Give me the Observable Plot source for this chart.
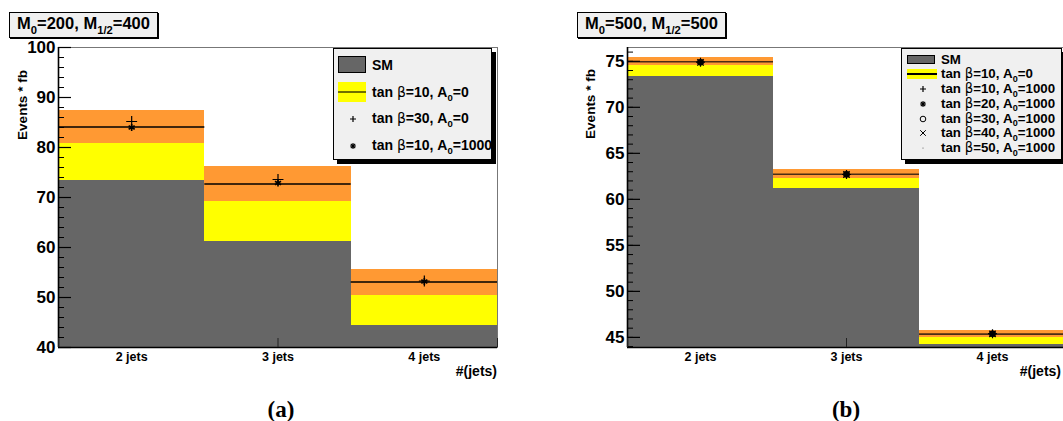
<!DOCTYPE html>
<html><head><meta charset="utf-8">
<script src="https://cdn.jsdelivr.net/npm/d3@7"></script>
<script src="https://cdn.jsdelivr.net/npm/@observablehq/plot@0.6"></script>
<style>
html,body{margin:0;padding:0;background:#fff;overflow:hidden;}
#root{position:relative;width:1063px;height:421px;overflow:hidden;font-family:"Liberation Sans",Arial,Helvetica,sans-serif;font-weight:bold;color:#000;}
.abs{position:absolute;white-space:nowrap;}
.pave{position:absolute;background:#f0f0f0;border:1px solid #000;box-sizing:border-box;}
.sub{font-size:0.68em;position:relative;top:0.42em;}
.beta{font-weight:normal;font-family:"DejaVu Sans","Liberation Sans",sans-serif;}
.svgplot{position:absolute;top:0;}
</style></head>
<body><div id="root"></div>
<script>
// ---------- data ----------
const categories = ["2 jets", "3 jets", "4 jets"];
const xTicks = [0, 1.5, 3];

// Panel (a): M0=200, M1/2=400
const smA = [73.4, 61.2, 44.4];
const sigA = [84.1, 72.7, 53.1];      // tan beta=10, A0=0
const errA = [3.3, 3.5, 2.6];
const tb30A0A = [85.2, 73.6, 53.3];   // tan beta=30, A0=0
const tb10A1000A = [84.0, 72.9, 53.2];// tan beta=10, A0=1000
const yDomainA = [40, 100];
const yMajorA = [40, 50, 60, 70, 80, 90, 100];

// Panel (b): M0=500, M1/2=500
const smB = [73.4, 61.2, 44.25];
const sigB = [74.95, 62.72, 45.35];
const errB = [0.45, 0.47, 0.35];
const tb10B = [74.9, 62.7, 45.4];
const tb20B = [74.88, 62.7, 45.38];
const tb30B = [74.9, 62.72, 45.4];
const tb40B = [74.88, 62.7, 45.38];
const tb50B = [74.9, 62.7, 45.4];
const yDomainB = [43.9, 76.5];
const yMajorB = [45, 50, 55, 60, 65, 70, 75];

// ---------- drawing ----------
function panel(o) {
  const W = o.width, H = 421;
  const innerW = W - o.mL - o.mR, innerH = H - o.mT - o.mB;
  const rows = categories.map((c, i) => ({i, i2: i + 1, c, sm: o.sm[i], sig: o.sig[i], lo: o.sig[i] - o.err[i], hi: o.sig[i] + o.err[i]}));
  const y0 = o.yDomain[0];
  const markerMarks = o.markers.map(m => Plot.dot(m.values.map((v, i) => ({x: i + 0.5, y: v})), {
    x: "x", y: "y", symbol: m.symbol, r: m.r, stroke: "#000", strokeWidth: m.sw ?? 1.2, fill: m.fill ?? "none"
  }));
  const crisp = {shapeRendering: "crispEdges"};
  return Plot.plot({
    width: W, height: H,
    marginLeft: o.mL, marginRight: o.mR, marginTop: o.mT, marginBottom: o.mB,
    style: {fontFamily: "'Liberation Sans', Arial, sans-serif", fontWeight: "bold", background: "transparent", overflow: "visible"},
    x: {domain: [0, 3], axis: null},
    y: {domain: o.yDomain, axis: null},
    marks: [
      Plot.rect(rows, {x1: "i", x2: "i2", y1: y0, y2: "sig", fill: "#ffff00", ...crisp}),
      Plot.rect(rows, {x1: "i", x2: "i2", y1: y0, y2: "sm", fill: "#666666", ...crisp}),
      Plot.rect(rows, {x1: "i", x2: "i2", y1: "lo", y2: "hi", fill: "#ff9933", ...crisp}),
      Plot.ruleY(rows, {y: "sig", x1: "i", x2: "i2", stroke: o.lineColor, strokeWidth: o.lineWidth}),
      ...markerMarks,
      Plot.frame({stroke: "#777", strokeWidth: 1}),
      Plot.ruleX([0], {stroke: "#000", strokeWidth: 1.6}),
      Plot.ruleY([y0], {stroke: "#000", strokeWidth: 1.6}),
      Plot.tickY(o.yMinor, {y: d => d, insetRight: innerW - 6, stroke: "#000", strokeWidth: 1}),
      Plot.tickY(o.yMajor, {y: d => d, insetRight: innerW - 13, stroke: "#000", strokeWidth: 1.2}),
      Plot.tickX(xTicks, {x: d => d, insetTop: innerH - 9, stroke: "#222", strokeWidth: 1}),
      Plot.text(o.yMajor, {y: d => d, frameAnchor: "left", dx: -3, textAnchor: "end", fontSize: 17, fontWeight: "bold", fill: "#000"}),
      Plot.text(categories, {x: (d, i) => i + 0.5, frameAnchor: "bottom", dy: 9, lineAnchor: "middle", fontSize: 12.5, fontWeight: "bold", fill: "#000"})
    ]
  });
}

const root = document.getElementById("root");

const svgA = panel({
  width: 540, mL: 58, mR: 43, mT: 47, mB: 74,
  sm: smA, sig: sigA, err: errA, yDomain: yDomainA, yMajor: yMajorA,
  yMinor: d3.range(40, 100.01, 2),
  lineColor: "#000", lineWidth: 1.4,
  markers: [
    {values: tb30A0A, symbol: "plus", r: 3.6, sw: 1.2},
    {values: tb10A1000A, symbol: "asterisk", r: 3.3, sw: 1.6}
  ]
});
svgA.classList.add("svgplot");
svgA.style.left = "0px";
root.appendChild(svgA);

const svgB = panel({
  width: 540, mL: 87, mR: 15, mT: 47, mB: 74,
  sm: smB, sig: sigB, err: errB, yDomain: yDomainB, yMajor: yMajorB,
  yMinor: d3.range(44, 76.01, 1),
  lineColor: "#4a2e14", lineWidth: 1.6,
  markers: [
    {values: tb10B, symbol: "plus", r: 3, sw: 1.2},
    {values: tb20B, symbol: "asterisk", r: 3, sw: 1.5},
    {values: tb30B, symbol: "circle", r: 2.6, sw: 1.3},
    {values: tb40B, symbol: "times", r: 3, sw: 1.3},
    {values: tb50B, symbol: "square", r: 2.6, sw: 0.5, fill: "#000"}
  ]
});
svgB.classList.add("svgplot");
svgB.style.left = "540px";
root.appendChild(svgB);

// ---------- annotations (HTML) ----------
function add(html, css, cls = "abs") {
  const d = document.createElement("div");
  d.className = cls;
  d.innerHTML = html;
  Object.assign(d.style, css);
  root.appendChild(d);
  return d;
}
const sym = {
  plus: '<svg width="10" height="10" viewBox="-5 -5 10 10"><path d="M-3,0H3M0,-3V3" stroke="#000" stroke-width="1.2"/></svg>',
  asterisk: '<svg width="10" height="10" viewBox="-5 -5 10 10"><path d="M-3,0H3M0,-3V3M-2.2,-2.2L2.2,2.2M-2.2,2.2L2.2,-2.2" stroke="#000" stroke-width="1.1"/></svg>',
  circle: '<svg width="10" height="10" viewBox="-5 -5 10 10"><circle r="2.8" fill="none" stroke="#000" stroke-width="1"/></svg>',
  times: '<svg width="10" height="10" viewBox="-5 -5 10 10"><path d="M-2.8,-2.8L2.8,2.8M-2.8,2.8L2.8,-2.8" stroke="#000" stroke-width="1"/></svg>',
  dot: '<svg width="10" height="10" viewBox="-5 -5 10 10"><circle r="0.6" fill="#555"/></svg>'
};
const tb = (n, a) => `tan <span class="beta">&beta;</span>=${n}, A<span class="sub">0</span>=${a}`;

// titles
add('M<span class="sub">0</span>=200, M<span class="sub">1/2</span>=400',
  {left: "9px", top: "12px", width: "149px", height: "26px", lineHeight: "21px", fontSize: "16.5px", textAlign: "center", boxShadow: "1px 1px 0 #000"}, "pave");
add('M<span class="sub">0</span>=500, M<span class="sub">1/2</span>=500',
  {left: "577px", top: "12px", width: "149px", height: "26px", lineHeight: "21px", fontSize: "16.5px", textAlign: "center", boxShadow: "1px 1px 0 #000"}, "pave");

// legend (a)
const legA = add("", {left: "333px", top: "48px", width: "159px", height: "112px", boxShadow: "4px 4px 0 #000"}, "pave");
function legItem(parent, html, css) {
  const d = document.createElement("div");
  d.className = "abs";
  d.innerHTML = html;
  Object.assign(d.style, css);
  parent.appendChild(d);
}
legItem(legA, "", {left: "4px", top: "7px", width: "28px", height: "17px", background: "#666", border: "1px solid #000", boxSizing: "border-box"});
legItem(legA, "SM", {left: "38px", top: "7px", fontSize: "14px", lineHeight: "18px"});
legItem(legA, '<div style="position:absolute;left:0;top:9px;width:28px;height:2px;background:#6f6f00"></div>', {left: "4px", top: "33px", width: "28px", height: "20px", background: "#ffff00"});
legItem(legA, tb(10, 0), {left: "38px", top: "34px", fontSize: "14px", lineHeight: "18px"});
legItem(legA, sym.plus, {left: "14px", top: "65px", width: "10px", height: "10px", lineHeight: "0"});
legItem(legA, tb(30, 0), {left: "38px", top: "60px", fontSize: "14px", lineHeight: "18px"});
legItem(legA, sym.asterisk, {left: "14px", top: "92px", width: "10px", height: "10px", lineHeight: "0"});
legItem(legA, tb(10, 1000), {left: "38px", top: "87px", fontSize: "14px", lineHeight: "18px"});

// legend (b)
const legB = add("", {left: "901px", top: "48px", width: "161px", height: "112px", boxShadow: "4px 4px 0 #000"}, "pave");
const rowB = [11, 25, 40, 54.5, 69.5, 84, 99];
legItem(legB, "", {left: "5px", top: "6px", width: "28px", height: "9px", background: "#666", border: "1px solid #000", boxSizing: "border-box"});
legItem(legB, '<div style="position:absolute;left:0;top:4px;width:30px;height:1.5px;background:#000"></div>', {left: "5px", top: "20px", width: "30px", height: "10px", background: "#ffff00"});
const labB = ["SM", tb(10, 0), tb(10, 1000), tb(20, 1000), tb(30, 1000), tb(40, 1000), tb(50, 1000)];
const symB = [null, null, sym.plus, sym.asterisk, sym.circle, sym.times, sym.dot];
labB.forEach((t, k) => {
  legItem(legB, t, {left: "39px", top: (rowB[k] - 8) + "px", fontSize: "13.3px", lineHeight: "16px"});
  if (symB[k]) legItem(legB, symB[k], {left: "16px", top: (rowB[k] - 5) + "px", width: "10px", height: "10px", lineHeight: "0"});
});

// axis titles
add("Events * fb", {left: "-27.5px", top: "96px", width: "100px", height: "18px", lineHeight: "18px", fontSize: "13.5px", textAlign: "center", transform: "rotate(-90deg)"});
add("Events * fb", {left: "540.5px", top: "94.5px", width: "100px", height: "18px", lineHeight: "18px", fontSize: "13.5px", textAlign: "center", transform: "rotate(-90deg)"});
add("#(jets)", {left: "397px", top: "362px", width: "100px", lineHeight: "18px", fontSize: "14px", textAlign: "right"});
add("#(jets)", {left: "961px", top: "362px", width: "100px", lineHeight: "18px", fontSize: "14px", textAlign: "right"});

// captions
add("(a)", {left: "231px", top: "396px", width: "100px", lineHeight: "28px", fontSize: "23px", textAlign: "center", fontFamily: "'Liberation Serif','DejaVu Serif',serif"});
add("(b)", {left: "796px", top: "396px", width: "100px", lineHeight: "28px", fontSize: "23px", textAlign: "center", fontFamily: "'Liberation Serif','DejaVu Serif',serif"});
</script>
</body></html>
